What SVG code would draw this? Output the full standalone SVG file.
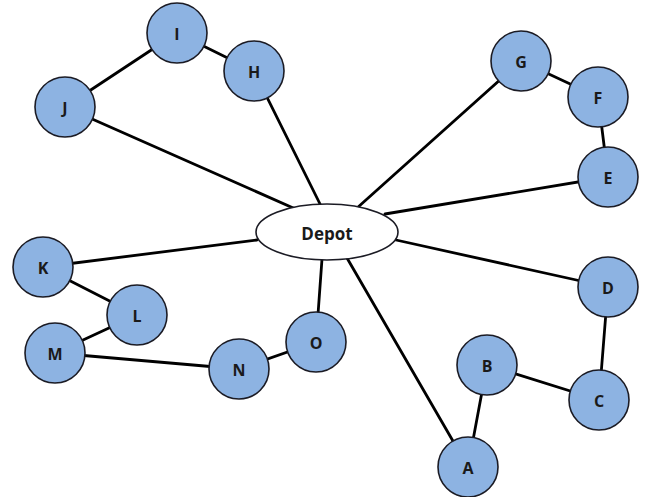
<svg xmlns="http://www.w3.org/2000/svg" width="646" height="497" viewBox="0 0 646 497">
<style>
.n circle{fill:#8db3e2;stroke:#1b1b24;stroke-width:1.6}
.n text,.d text{font-family:"Open Sans","Liberation Sans",sans-serif;font-weight:bold;font-size:16px;fill:#1a1a1a;text-anchor:middle;dominant-baseline:central}
.d text{font-size:17px}
.d ellipse{fill:#fff;stroke:#1b1b24;stroke-width:1.6}
#edges line{stroke:#000;stroke-width:2.8;stroke-linecap:round}
</style>
<rect width="646" height="497" fill="#fff"/>
<g id="edges">
<line x1="177" y1="33" x2="65" y2="107"/>
<line x1="177" y1="33" x2="254" y2="71"/>
<line x1="254" y1="71" x2="322" y2="208"/>
<line x1="65" y1="107" x2="300" y2="211"/>
<line x1="521" y1="61" x2="357" y2="208"/>
<line x1="521" y1="61" x2="598" y2="97"/>
<line x1="598" y1="97" x2="608" y2="177"/>
<line x1="608" y1="177" x2="385" y2="214"/>
<line x1="43" y1="267" x2="257" y2="240"/>
<line x1="43" y1="267" x2="137" y2="315"/>
<line x1="137" y1="315" x2="55" y2="353"/>
<line x1="55" y1="353" x2="239" y2="369"/>
<line x1="239" y1="369" x2="316" y2="342"/>
<line x1="316" y1="342" x2="322" y2="259"/>
<line x1="608" y1="287" x2="396" y2="240"/>
<line x1="608" y1="287" x2="599" y2="400"/>
<line x1="599" y1="400" x2="487" y2="365"/>
<line x1="487" y1="365" x2="468" y2="467"/>
<line x1="468" y1="467" x2="347" y2="258"/>
</g>
<g id="Depot" class="d"><ellipse cx="327" cy="232" rx="71" ry="28"/><text x="327" y="233">Depot</text></g>
<g id="I" class="n"><circle cx="177" cy="33" r="30"/><text x="177" y="34">I</text></g>
<g id="H" class="n"><circle cx="254" cy="71" r="30"/><text x="254" y="72">H</text></g>
<g id="J" class="n"><circle cx="65" cy="107" r="30"/><text x="65" y="108">J</text></g>
<g id="G" class="n"><circle cx="521" cy="61" r="30"/><text x="521" y="62">G</text></g>
<g id="F" class="n"><circle cx="598" cy="97" r="30"/><text x="598" y="98">F</text></g>
<g id="E" class="n"><circle cx="608" cy="177" r="30"/><text x="608" y="178">E</text></g>
<g id="K" class="n"><circle cx="43" cy="267" r="30"/><text x="43" y="268">K</text></g>
<g id="L" class="n"><circle cx="137" cy="315" r="30"/><text x="137" y="316">L</text></g>
<g id="M" class="n"><circle cx="55" cy="353" r="30"/><text x="55" y="354">M</text></g>
<g id="N" class="n"><circle cx="239" cy="369" r="30"/><text x="239" y="370">N</text></g>
<g id="O" class="n"><circle cx="316" cy="342" r="30"/><text x="316" y="343">O</text></g>
<g id="D" class="n"><circle cx="608" cy="287" r="30"/><text x="608" y="288">D</text></g>
<g id="B" class="n"><circle cx="487" cy="365" r="30"/><text x="487" y="366">B</text></g>
<g id="C" class="n"><circle cx="599" cy="400" r="30"/><text x="599" y="401">C</text></g>
<g id="A" class="n"><circle cx="468" cy="467" r="30"/><text x="468" y="468">A</text></g>
</svg>
